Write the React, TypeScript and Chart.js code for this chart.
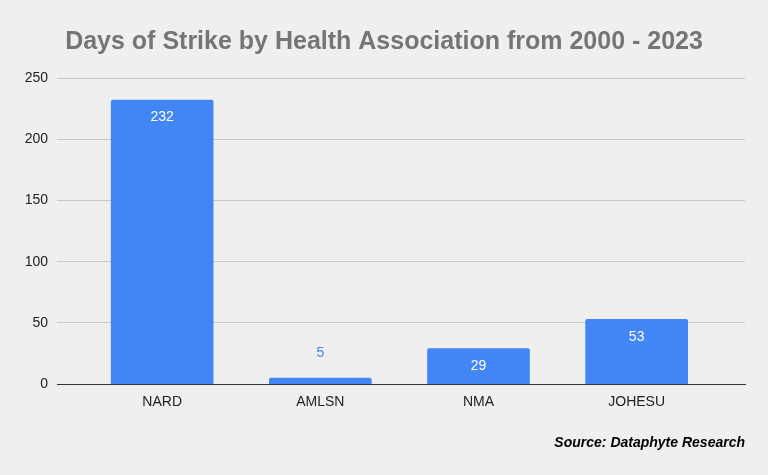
import React, { useEffect, useRef } from "react";
import { Chart, registerables } from "chart.js";

Chart.register(...registerables);

const categories = ["NARD", "AMLSN", "NMA", "JOHESU"];
const strikeDays = [232, 5, 29, 53];
const yTicks = [0, 50, 100, 150, 200, 250];
const titleText = "Days of Strike by Health Association from 2000 - 2023";
const sourceText = "Source: Dataphyte Research";

const FONT = "'Liberation Sans', Arial, sans-serif";
const BLUE = "#4285f4";

const labelPlugin = {
  id: "barLabels",
  afterDatasetsDraw(chart: any) {
    const ctx = chart.ctx;
    const meta = chart.getDatasetMeta(0);
    ctx.save();
    ctx.font = `14px ${FONT}`;
    ctx.textAlign = "center";
    ctx.textBaseline = "middle";
    meta.data.forEach((bar: any, i: number) => {
      const v = strikeDays[i];
      const h = bar.base - bar.y;
      if (h > 24) {
        ctx.fillStyle = "#ffffff";
        ctx.fillText(String(v), bar.x, bar.y + 17.5);
      } else {
        ctx.fillStyle = BLUE;
        ctx.fillText(String(v), bar.x, bar.y - 24.5);
      }
    });
    ctx.restore();
  },
};

export default function App() {
  const ref = useRef<HTMLCanvasElement | null>(null);
  useEffect(() => {
    document.body.style.margin = "0";
    const chart = new Chart(ref.current as HTMLCanvasElement, {
      type: "bar",
      data: {
        datasets: [
          {
            data: strikeDays.map((v, i) => ({ x: i, y: v })),
            backgroundColor: BLUE,
            borderRadius: 2,
            borderSkipped: "bottom",
            barThickness: 102,
          },
        ],
      },
      options: {
        animation: false,
        responsive: false,
        maintainAspectRatio: false,
        layout: { padding: { left: 23, right: 23, top: 0, bottom: 0 } },
        plugins: {
          legend: { display: false },
          tooltip: { enabled: false },
          title: {
            display: true,
            text: titleText,
            color: "#757575",
            font: { family: FONT, size: 25, weight: "bold" },
            padding: { top: 27, bottom: 21 },
          },
          subtitle: {
            display: true,
            text: sourceText,
            position: "bottom",
            align: "end",
            color: "#000000",
            font: { family: FONT, size: 14, weight: "bold", style: "italic" },
            padding: { top: 13, bottom: 23 },
          },
        },
        scales: {
          x: {
            type: "linear",
            offset: false,
            min: -0.665,
            max: 3.685,
            grid: { display: false, drawTicks: false, offset: false },
            border: { display: true, color: "#333333", width: 1 },
            afterBuildTicks: (scale: any) => {
              scale.ticks = categories.map((_, i) => ({ value: i }));
            },
            afterFit: (scale: any) => {
              scale.height = 38;
            },
            ticks: {
              padding: 10,
              color: "#222222",
              font: { family: FONT, size: 14 },
              callback: (v: any) => categories[Math.round(Number(v))] ?? "",
              maxRotation: 0,
              autoSkip: false,
            },
          },
          y: {
            min: 0,
            max: 250,
            grid: {
              drawTicks: false,
              color: (c: any) => (c.tick && c.tick.value === 0 ? "#333333" : "#c8c8c8"),
            },
            border: { display: false },
            afterBuildTicks: (scale: any) => {
              scale.ticks = yTicks.map((v) => ({ value: v }));
            },
            afterFit: (scale: any) => {
              scale.width = 34;
            },
            ticks: {
              padding: 9,
              color: "#222222",
              font: { family: FONT, size: 14 },
            },
          },
        },
      },
      plugins: [labelPlugin],
    } as any);
    return () => chart.destroy();
  }, []);
  return (
    <div style={{ width: 768, height: 475, background: "#efefef" }}>
      <canvas ref={ref} width={768} height={475} style={{ display: "block" }} />
    </div>
  );
}
